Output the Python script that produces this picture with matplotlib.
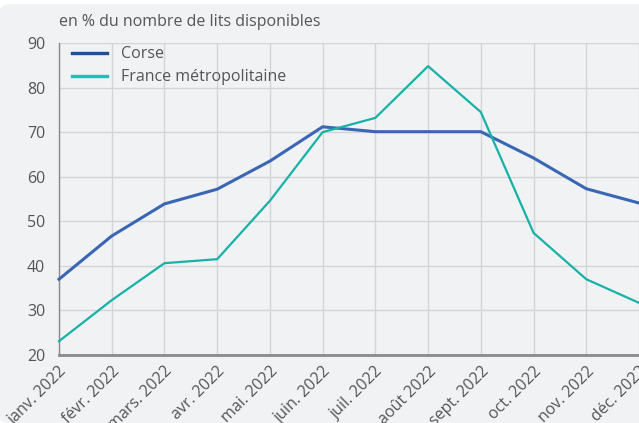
import matplotlib
matplotlib.use('Agg')
import matplotlib.pyplot as plt
from matplotlib.patches import FancyBboxPatch

mois = ['janv. 2022', 'févr. 2022', 'mars. 2022', 'avr. 2022', 'mai. 2022', 'juin. 2022',
        'juil. 2022', 'août 2022', 'sept. 2022', 'oct. 2022', 'nov. 2022', 'déc. 2022']
corse = [37.0, 46.7, 53.9, 57.2, 63.5, 71.2, 70.1, 70.1, 70.1, 64.2, 57.3, 54.1]
france = [23.1, 32.3, 40.6, 41.5, 54.6, 70.0, 73.2, 84.8, 74.5, 47.4, 37.0, 31.7]

plt.rcParams['font.family'] = ['Open Sans', 'DejaVu Sans']
grey_txt = '#555555'
fs = 11.5

fig = plt.figure(figsize=(6.39, 4.23), dpi=100)
fig.patch.set_facecolor('white')
card = FancyBboxPatch((0.0, 0.0), 1.02, 0.99, boxstyle='round,pad=0,rounding_size=0.015',
                      transform=fig.transFigure, facecolor='#f0f2f4', edgecolor='none', zorder=-5)
fig.patches.append(card)

ax = fig.add_axes([59 / 639, 68 / 423, 580 / 639, 312 / 423])
ax.set_facecolor('none')
x = list(range(len(mois)))
ax.plot(x, corse, color='#3a66b4', lw=2.2, label='Corse', zorder=3, clip_on=False)
ax.plot(x, france, color='#17b2a6', lw=1.6, label='France métropolitaine', zorder=3, clip_on=False)

ax.set_xlim(0, 11)
ax.set_ylim(20, 90)
ax.set_yticks(range(20, 91, 10))
ax.set_xticks(x)
ax.set_xticklabels(mois, rotation=45, ha='right', va='top', rotation_mode='anchor')
ax.tick_params(axis='both', length=0, labelsize=fs, colors=grey_txt)
ax.tick_params(axis='x', pad=6)
ax.tick_params(axis='y', pad=10)
ax.grid(True, color='#d3d4d8', lw=1)
ax.set_axisbelow(True)
for s in ['top', 'right']:
    ax.spines[s].set_visible(False)
ax.spines['left'].set_color('#8a8a8a')
ax.spines['left'].set_linewidth(1)
ax.spines['bottom'].set_color('#8a8a8a')
ax.spines['bottom'].set_linewidth(2)

leg = ax.legend(loc='upper left', frameon=False, fontsize=fs, handlelength=2.2,
                handletextpad=0.85, borderaxespad=0.0, labelspacing=0.45,
                bbox_to_anchor=(0.012, 1.01))
leg.get_lines()[0].set_color('#1d4e8f')
leg.get_lines()[0].set_linewidth(2.4)
leg.get_lines()[1].set_color('#1ec1b5')
leg.get_lines()[1].set_linewidth(2.4)
for t in leg.get_texts():
    t.set_color(grey_txt)

fig.text(59 / 639, 1 - 22 / 423, 'en % du nombre de lits disponibles', fontsize=fs,
         color=grey_txt, va='center', ha='left')

fig.savefig('out.png', dpi=100, facecolor=fig.get_facecolor())
